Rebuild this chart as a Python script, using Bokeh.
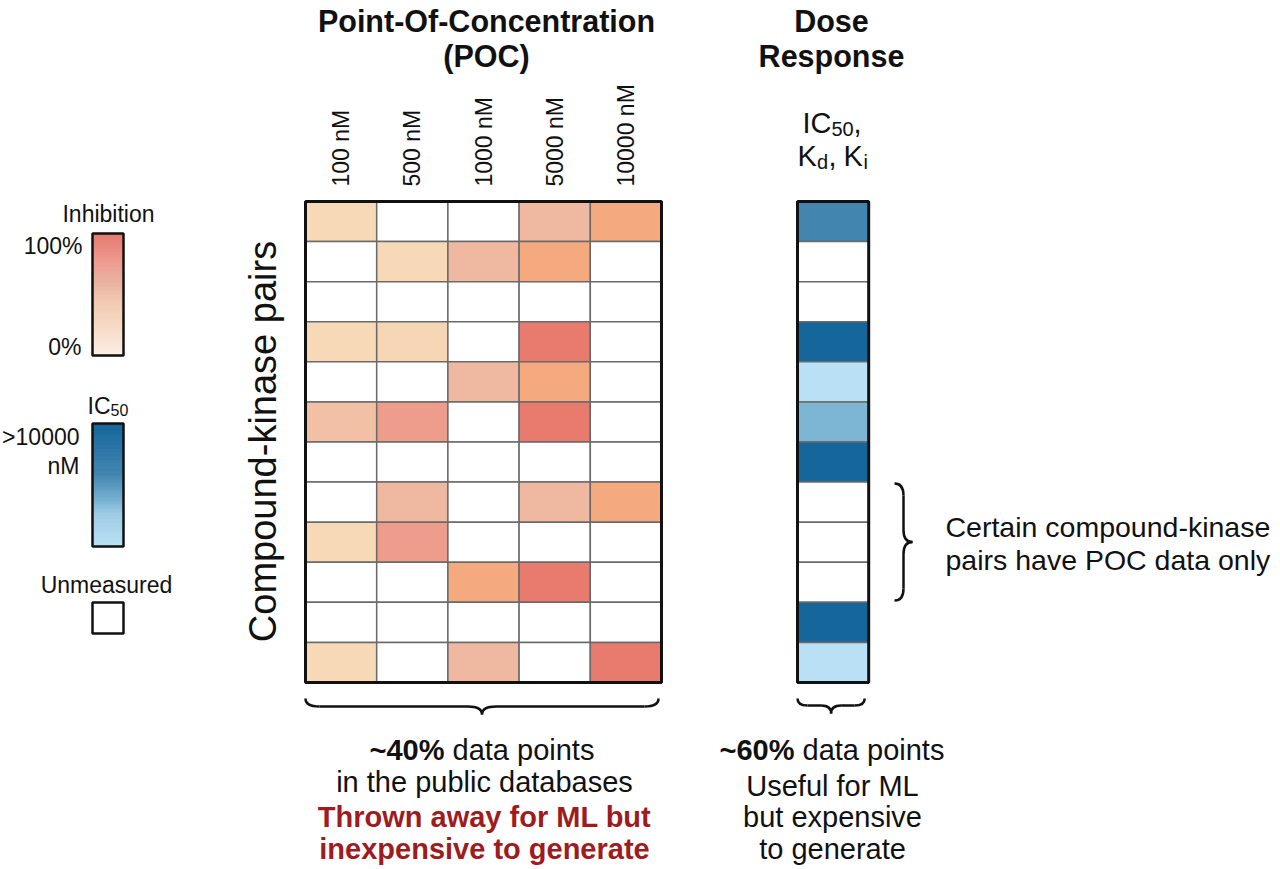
import numpy as np
from bokeh.plotting import figure
from bokeh.models import ColumnDataSource, Range1d, LinearColorMapper
from bokeh.transform import transform
from bokeh.core.properties import value
from bokeh.embed import file_html
from bokeh.resources import INLINE

# ---------------- data ----------------
concentrations = ["100 nM", "500 nM", "1000 nM", "5000 nM", "10000 nM"]
n_pairs = 12
N = np.nan
# percent inhibition per compound-kinase pair (rows) and concentration (cols); NaN = unmeasured
poc_inhibition = [
    [20, N, N, 45, 60],
    [N, 20, 45, 60, N],
    [N, N, N, N, N],
    [21, 22, N, 95, N],
    [N, N, 45, 60, N],
    [38, 80, N, 95, N],
    [N, N, N, N, N],
    [N, 45, N, 45, 60],
    [20, 80, N, N, N],
    [N, N, 60, 95, N],
    [N, N, N, N, N],
    [20, N, 45, N, 95],
]
# dose-response level (0 = low IC50 ... 100 = >10000 nM); NaN = unmeasured
dose_response = [58, N, N, 100, 0, 35, 100, N, N, N, 100, 0]

# ---------------- styling helpers ----------------
FONT = value("Liberation Sans")
BLACK = "#111111"
DARKRED = "#9E1B20"


def ramp(stops, n=256):
    xs = [s[0] for s in stops]
    cols = [tuple(int(s[1][i:i + 2], 16) for i in (1, 3, 5)) for s in stops]
    out = []
    for t in np.linspace(xs[0], xs[-1], n):
        rgb = [int(round(np.interp(t, xs, [c[k] for c in cols]))) for k in range(3)]
        out.append("#%02x%02x%02x" % tuple(rgb))
    return out


cell_red = ramp([(0, "#FBEBE0"), (20, "#F7D9B8"), (40, "#F2BEA3"), (45, "#EFB8A0"),
                 (60, "#F5A97F"), (80, "#EE9C8C"), (95, "#E87B6D"), (100, "#E57769")])
legend_red = ramp([(0, "#FCEEE6"), (20, "#F8DCC8"), (40, "#F3CDB5"), (60, "#E8B2A0"),
                   (75, "#EE9C94"), (100, "#E47A6E")])
blues = ramp([(0, "#B9E0F4"), (25, "#A0CCE6"), (35, "#7DB5D5"), (58, "#4286B0"), (100, "#15669B")])

red_mapper = LinearColorMapper(palette=cell_red, low=0, high=100, nan_color="white")
blue_mapper = LinearColorMapper(palette=blues, low=0, high=100, nan_color="white")

W, H = 1280, 869
p = figure(width=W, height=H, x_range=Range1d(0, W), y_range=Range1d(H, 0),
           output_backend="svg", toolbar_location=None, min_border=0,
           outline_line_color=None, background_fill_color="white")
p.axis.visible = False
p.grid.visible = False

# layout constants
GX0, GY0 = 305.0, 201.0
CW, CH = 71.2, 40.08
DX0 = 797.0
GRID_LINE = "#6a6a6a"
BODY = "29px"

# ---------------- POC heatmap ----------------
xs, ys, vs = [], [], []
for r in range(n_pairs):
    for c in range(len(concentrations)):
        xs.append(GX0 + (c + 0.5) * CW)
        ys.append(GY0 + (r + 0.5) * CH)
        vs.append(poc_inhibition[r][c])
poc_src = ColumnDataSource(dict(x=xs, y=ys, v=vs))
p.rect(x="x", y="y", width=CW, height=CH, source=poc_src,
       fill_color=transform("v", red_mapper), line_color=GRID_LINE, line_width=1.5)
p.quad(left=[GX0], right=[GX0 + CW * len(concentrations)], top=[GY0], bottom=[GY0 + CH * n_pairs],
       fill_color=None, line_color=BLACK, line_width=3)

# ---------------- dose response column ----------------
dose_src = ColumnDataSource(dict(x=[DX0 + CW / 2] * n_pairs,
                                 y=[GY0 + (r + 0.5) * CH for r in range(n_pairs)],
                                 v=dose_response))
p.rect(x="x", y="y", width=CW, height=CH, source=dose_src,
       fill_color=transform("v", blue_mapper), line_color=GRID_LINE, line_width=1.5)
p.quad(left=[DX0], right=[DX0 + CW], top=[GY0], bottom=[GY0 + CH * n_pairs],
       fill_color=None, line_color=BLACK, line_width=3)

# ---------------- column labels ----------------
p.text(x=[GX0 + (c + 0.5) * CW for c in range(len(concentrations))], y=[186] * len(concentrations),
       text=concentrations, angle=np.pi / 2, text_align="left", text_baseline="middle",
       text_font=FONT, text_font_size="23px", text_color=BLACK)

p.text(x=[262], y=[441], text=["Compound-kinase pairs"], angle=np.pi / 2,
       text_align="center", text_baseline="middle", text_font=FONT,
       text_font_size="38px", text_color=BLACK)

# titles
p.text(x=[486, 486], y=[20, 55], text=["Point-Of-Concentration", "(POC)"],
       text_align="center", text_baseline="middle", text_font=FONT,
       text_font_size="30.5px", text_font_style="bold", text_color=BLACK)
p.text(x=[831, 831], y=[20, 55], text=["Dose", "Response"],
       text_align="center", text_baseline="middle", text_font=FONT,
       text_font_size="30.5px", text_font_style="bold", text_color=BLACK)

# IC50, Kd, Ki label
p.text(x=[802], y=[122], text=["IC"], text_align="left", text_baseline="alphabetic",
       text_font=FONT, text_font_size="29px", text_color=BLACK)
p.text(x=[831], y=[128], text=["50"], text_align="left", text_baseline="alphabetic",
       text_font=FONT, text_font_size="20px", text_color=BLACK)
p.text(x=[853], y=[122], text=[","], text_align="left", text_baseline="alphabetic",
       text_font=FONT, text_font_size="29px", text_color=BLACK)
p.text(x=[797], y=[155], text=["K"], text_align="left", text_baseline="alphabetic",
       text_font=FONT, text_font_size="29px", text_color=BLACK)
p.text(x=[816.5], y=[161], text=["d"], text_align="left", text_baseline="alphabetic",
       text_font=FONT, text_font_size="20px", text_color=BLACK)
p.text(x=[828], y=[155], text=[","], text_align="left", text_baseline="alphabetic",
       text_font=FONT, text_font_size="29px", text_color=BLACK)
p.text(x=[843], y=[155], text=["K"], text_align="left", text_baseline="alphabetic",
       text_font=FONT, text_font_size="29px", text_color=BLACK)
p.text(x=[863], y=[161], text=["i"], text_align="left", text_baseline="alphabetic",
       text_font=FONT, text_font_size="20px", text_color=BLACK)

# ---------------- legend ----------------
LX0, LX1 = 92.0, 123.0
nstrip = 90
t = np.linspace(0, 1, nstrip + 1)
lvals = np.linspace(100, 0, nstrip)
# inhibition gradient (top = 100%)
ry0, ry1 = 233.0, 355.0
edges = ry0 + t * (ry1 - ry0)
rcols = [legend_red[int(v / 100 * 255)] for v in lvals]
p.quad(left=LX0, right=LX1, top=edges[:-1], bottom=edges[1:],
       fill_color=rcols, line_color=rcols, line_width=1)
p.quad(left=[LX0], right=[LX1], top=[ry0], bottom=[ry1], fill_color=None,
       line_color=BLACK, line_width=2.5)
# IC50 gradient (top = dark)
by0, by1 = 423.0, 546.0
edges_b = by0 + t * (by1 - by0)
bcols = [blues[int(v / 100 * 255)] for v in lvals]
p.quad(left=LX0, right=LX1, top=edges_b[:-1], bottom=edges_b[1:],
       fill_color=bcols, line_color=bcols, line_width=1)
p.quad(left=[LX0], right=[LX1], top=[by0], bottom=[by1], fill_color=None,
       line_color=BLACK, line_width=2.5)
# unmeasured box
p.quad(left=[LX0], right=[LX1], top=[602], bottom=[633], fill_color="white",
       line_color=BLACK, line_width=2.5)

p.text(x=[108], y=[213], text=["Inhibition"], text_align="center", text_baseline="middle",
       text_font=FONT, text_font_size="23px", text_color=BLACK)
p.text(x=[82, 81], y=[245, 346], text=["100%", "0%"], text_align="right", text_baseline="middle",
       text_font=FONT, text_font_size="23px", text_color=BLACK)
p.text(x=[87], y=[405], text=["IC"], text_align="left", text_baseline="alphabetic",
       text_font=FONT, text_font_size="23px", text_color=BLACK)
p.text(x=[110], y=[409], text=["50"], text_align="left", text_baseline="alphabetic",
       text_font=FONT, text_font_size="16px", text_color=BLACK)
p.text(x=[79, 79], y=[436, 465], text=[">10000", "nM"], text_align="right", text_baseline="middle",
       text_font=FONT, text_font_size="23px", text_color=BLACK)
p.text(x=[106], y=[584], text=["Unmeasured"], text_align="center", text_baseline="middle",
       text_font=FONT, text_font_size="23px", text_color=BLACK)


# ---------------- braces ----------------
def hbrace(x0, x1, y_end, y_mid, y_tip, r=14):
    xc = (x0 + x1) / 2
    p.quadratic(x0=[x0, xc - r, x1, xc + r], y0=[y_end, y_mid, y_end, y_mid],
                x1=[x0 + r, xc, x1 - r, xc], y1=[y_mid, y_tip, y_mid, y_tip],
                cx=[x0, xc, x1, xc], cy=[y_mid, y_mid, y_mid, y_mid],
                line_color=BLACK, line_width=2.5)
    p.segment(x0=[x0 + r, xc + r], y0=[y_mid, y_mid], x1=[xc - r, x1 - r], y1=[y_mid, y_mid],
              line_color=BLACK, line_width=2.5)


def vbrace(y0, y1, x_end, x_mid, x_tip, r=14):
    yc = (y0 + y1) / 2
    p.quadratic(x0=[x_end, x_mid, x_end, x_mid], y0=[y0, yc - r, y1, yc + r],
                x1=[x_mid, x_tip, x_mid, x_tip], y1=[y0 + r, yc, y1 - r, yc],
                cx=[x_mid, x_mid, x_mid, x_mid], cy=[y0, yc, y1, yc],
                line_color=BLACK, line_width=2.5)
    p.segment(x0=[x_mid, x_mid], y0=[y0 + r, yc + r], x1=[x_mid, x_mid], y1=[yc - r, y1 - r],
              line_color=BLACK, line_width=2.5)


hbrace(GX0, GX0 + CW * len(concentrations) - 3, 698, 706, 714, r=14)
hbrace(DX0, DX0 + CW - 4, 698, 705, 713, r=10)
vbrace(483, 600, 894, 903, 912, r=12)

# ---------------- annotations ----------------
SP = 8  # width of a space at body size
p.text(x=[444], y=[749], text=["~40%"], text_align="right", text_baseline="middle",
       text_font=FONT, text_font_size=BODY, text_font_style="bold", text_color=BLACK)
p.text(x=[444 + SP], y=[749], text=["data points"], text_align="left", text_baseline="middle",
       text_font=FONT, text_font_size=BODY, text_color=BLACK)
p.text(x=[484], y=[781], text=["in the public databases"], text_align="center", text_baseline="middle",
       text_font=FONT, text_font_size=BODY, text_color=BLACK)
p.text(x=[484, 484], y=[816, 848], text=["Thrown away for ML but", "inexpensive to generate"],
       text_align="center", text_baseline="middle", text_font=FONT, text_font_size=BODY,
       text_font_style="bold", text_color=DARKRED)

p.text(x=[794], y=[749], text=["~60%"], text_align="right", text_baseline="middle",
       text_font=FONT, text_font_size=BODY, text_font_style="bold", text_color=BLACK)
p.text(x=[794 + SP], y=[749], text=["data points"], text_align="left", text_baseline="middle",
       text_font=FONT, text_font_size=BODY, text_color=BLACK)
p.text(x=[832, 832, 832], y=[785, 816, 848], text=["Useful for ML", "but expensive", "to generate"],
       text_align="center", text_baseline="middle", text_font=FONT, text_font_size=BODY,
       text_color=BLACK)

p.text(x=[945, 945], y=[526, 559], text=["Certain compound-kinase", "pairs have POC data only"],
       text_align="left", text_baseline="middle", text_font=FONT, text_font_size="28.5px",
       text_color=BLACK)

open("out.html", "w").write(file_html(p, INLINE))
